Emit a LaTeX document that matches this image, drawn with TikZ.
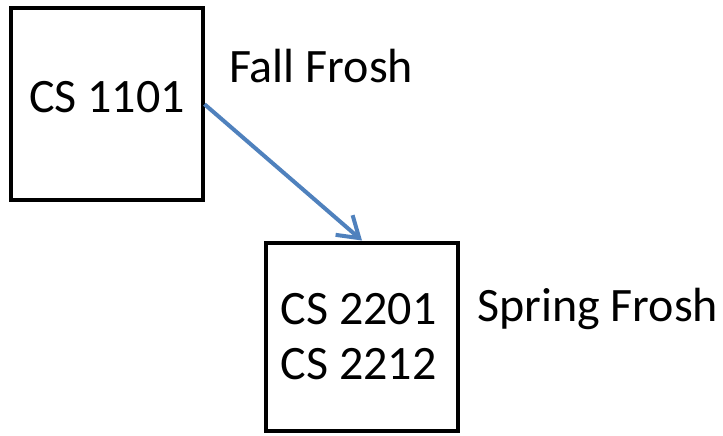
\documentclass[tikz,border=0pt]{standalone}
\usepackage{fontspec}
\setmainfont{Carlito}
\usetikzlibrary{arrows.meta}
\definecolor{arrowblue}{HTML}{4F81BD}
\begin{document}
\begin{tikzpicture}[x=1pt,y=1pt,
  course/.style={draw=black, line width=4pt, minimum width=192pt, minimum height=192pt, inner sep=0pt},
  coursetext/.style={anchor=base, inner sep=0pt, font=\fontsize{48}{55}\selectfont},
  termlabel/.style={anchor=base west, inner sep=0pt, font=\fontsize{48}{55}\selectfont},
  flow/.style={draw=arrowblue, line width=4pt, -{Straight Barb[length=20pt,width=26pt]}}]
\useasboundingbox (0,0) rectangle (723,-436);
\fill[white] (0,0) rectangle (723,-436);
\node[course] (b1) at (106.5,-104.25) {};
\node[course, minimum height=188pt] (b2) at (362,-336.5) {};
\node[coursetext] (t1) at (107,-112.5) {CS 1101};
\node[coursetext] (t2) at (358.5,-324) {CS 2201};
\node[coursetext] (t3) at (358.5,-379) {CS 2212};
\node[termlabel] (l1) at (229,-83) {Fall Frosh};
\node[termlabel] (l2) at (477,-321) {Spring Frosh};
\draw[flow] (b1.east) -- (b2.north);
\end{tikzpicture}
\end{document}
